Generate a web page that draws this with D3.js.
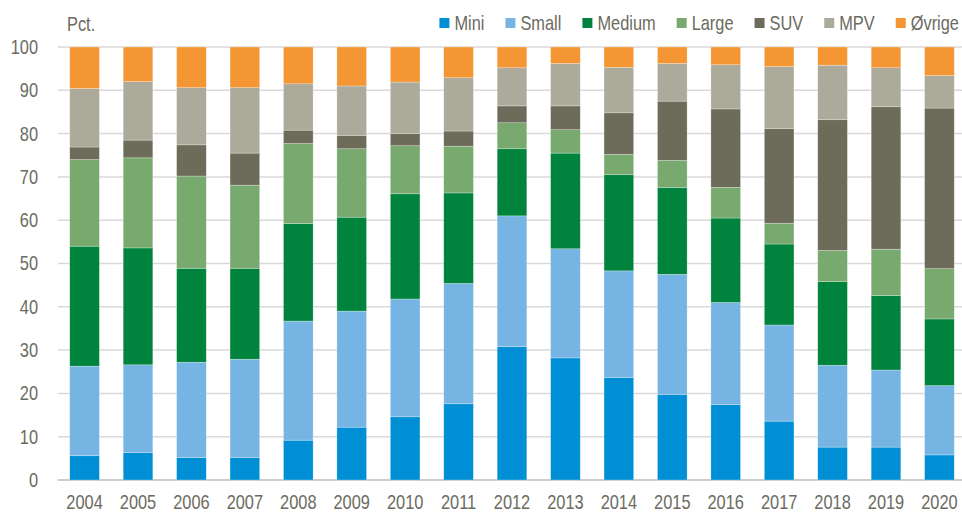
<!DOCTYPE html>
<html>
<head>
<meta charset="utf-8">
<script src="https://cdn.jsdelivr.net/npm/d3@7"></script>
<style>
  html, body { margin: 0; padding: 0; background: #fff; }
  svg { display: block; font-family: "Liberation Sans", Arial, sans-serif; }
</style>
</head>
<body>
<svg id="chart" width="962" height="515"></svg>
<script>
const years = ['2004','2005','2006','2007','2008','2009','2010','2011','2012','2013','2014','2015','2016','2017','2018','2019','2020'];
const seriesNames = ['Mini', 'Small', 'Medium', 'Large', 'SUV', 'MPV', 'Øvrige'];
const mini   = [5.6, 6.3, 5.2, 5.2, 9.2, 12.2, 14.6, 17.6, 30.8, 28.2, 23.7, 19.8, 17.4, 13.6, 7.6, 7.6, 5.8];
const small  = [20.7, 20.3, 22.0, 22.7, 27.5, 26.8, 27.2, 27.8, 30.2, 25.2, 24.6, 27.7, 23.6, 22.2, 18.9, 17.8, 16.0];
const medium = [27.7, 27.0, 21.7, 21.0, 22.5, 21.7, 24.3, 20.9, 15.5, 22.1, 22.2, 20.0, 19.5, 18.7, 19.3, 17.2, 15.4];
const large  = [20.0, 20.8, 21.3, 19.2, 18.5, 15.8, 11.1, 10.8, 6.0, 5.4, 4.7, 6.3, 7.1, 4.8, 7.2, 10.7, 11.6];
const suv    = [2.9, 4.1, 7.2, 7.4, 3.1, 3.1, 2.8, 3.5, 3.9, 5.5, 9.6, 13.7, 18.1, 21.9, 30.2, 32.9, 37.1];
const mpv    = [13.5, 13.5, 13.2, 15.1, 10.7, 11.4, 11.9, 12.3, 8.8, 9.8, 10.5, 8.7, 10.2, 14.3, 12.6, 9.0, 7.5];
const ovrige = [9.6, 8.0, 9.4, 9.4, 8.5, 9.0, 8.1, 7.1, 4.8, 3.8, 4.7, 3.8, 4.1, 4.5, 4.2, 4.8, 6.6];
const yTicks = [0, 10, 20, 30, 40, 50, 60, 70, 80, 90, 100];

const colors = ['#008fd5', '#76b5e3', '#00843d', '#78a96f', '#6d6c5a', '#acab9b', '#f39633'];
const textColor = '#6b6b5f';
const fontSize = '20px';
const squeeze = 0.82;

const seriesValues = [mini, small, medium, large, suv, mpv, ovrige];
const table = years.map((y, i) => {
  const row = { year: y };
  seriesNames.forEach((s, k) => { row[s] = seriesValues[k][i]; });
  return row;
});

// narrow look: scale text horizontally around its own x
function condense(sel) {
  sel.attr('transform', function() {
    const ax = +this.getAttribute('x') || 0;
    return `translate(${ax},0) scale(${squeeze},1) translate(${-ax},0)`;
  });
}

const width = 962, height = 515;
const margin = { top: 47, right: -4, bottom: 35, left: 58 };
const svg = d3.select('#chart');

const x = d3.scaleBand()
  .domain(years)
  .range([margin.left, width - margin.right])
  .paddingInner(0.445)
  .paddingOuter(0.22);

const y = d3.scaleLinear()
  .domain([0, 100])
  .range([height - margin.bottom, margin.top]);

// gridlines
svg.append('g')
  .selectAll('line')
  .data(yTicks)
  .enter().append('line')
    .attr('x1', margin.left)
    .attr('x2', width)
    .attr('y1', d => y(d))
    .attr('y2', d => y(d))
    .attr('stroke', d => d === 0 ? '#bdbdb5' : '#d9d9d9')
    .attr('stroke-width', 1.5);

const stacked = d3.stack().keys(seriesNames)(table);

svg.append('g')
  .selectAll('g')
  .data(stacked)
  .enter().append('g')
    .attr('fill', (d, i) => colors[i])
  .selectAll('rect')
  .data(d => d)
  .enter().append('rect')
    .attr('x', d => x(d.data.year))
    .attr('y', d => y(d[1]))
    .attr('width', x.bandwidth())
    .attr('height', d => y(d[0]) - y(d[1]))
    .attr('stroke', '#ffffff')
    .attr('stroke-opacity', 0.45)
    .attr('stroke-width', 0.6);

// y axis
const yAxis = svg.append('g')
  .attr('transform', `translate(${margin.left},0)`)
  .call(d3.axisLeft(y).tickValues(yTicks).tickSize(0).tickPadding(20));
yAxis.attr('font-family', null).attr('font-size', null);
yAxis.select('.domain').remove();
yAxis.selectAll('text')
  .attr('fill', textColor)
  .style('font-size', fontSize)
  .call(condense);

// x axis
const xAxis = svg.append('g')
  .attr('transform', `translate(0,${height - margin.bottom})`)
  .call(d3.axisBottom(x).tickSize(0).tickPadding(15));
xAxis.attr('font-family', null).attr('font-size', null);
xAxis.select('.domain').remove();
xAxis.selectAll('text')
  .attr('fill', textColor)
  .style('font-size', fontSize)
  .call(condense);

// unit label
svg.append('text')
  .attr('x', 67)
  .attr('y', 31)
  .attr('fill', textColor)
  .style('font-size', fontSize)
  .text('Pct.')
  .call(condense);

// legend, laid out from the right edge
const legend = svg.append('g');
const items = legend.selectAll('g')
  .data(seriesNames)
  .enter().append('g');
items.append('rect')
  .attr('width', 10)
  .attr('height', 10)
  .attr('y', 18)
  .attr('fill', (d, i) => colors[i]);
items.append('text')
  .attr('x', 15)
  .attr('y', 30)
  .attr('fill', textColor)
  .style('font-size', fontSize)
  .text(d => d)
  .call(condense);

let cursor = 959;
items.nodes().reverse().forEach(n => {
  const w = 15 + d3.select(n).select('text').node().getComputedTextLength() * squeeze;
  cursor -= w;
  d3.select(n).attr('transform', `translate(${cursor},0)`);
  cursor -= 21;
});
</script>
</body>
</html>
